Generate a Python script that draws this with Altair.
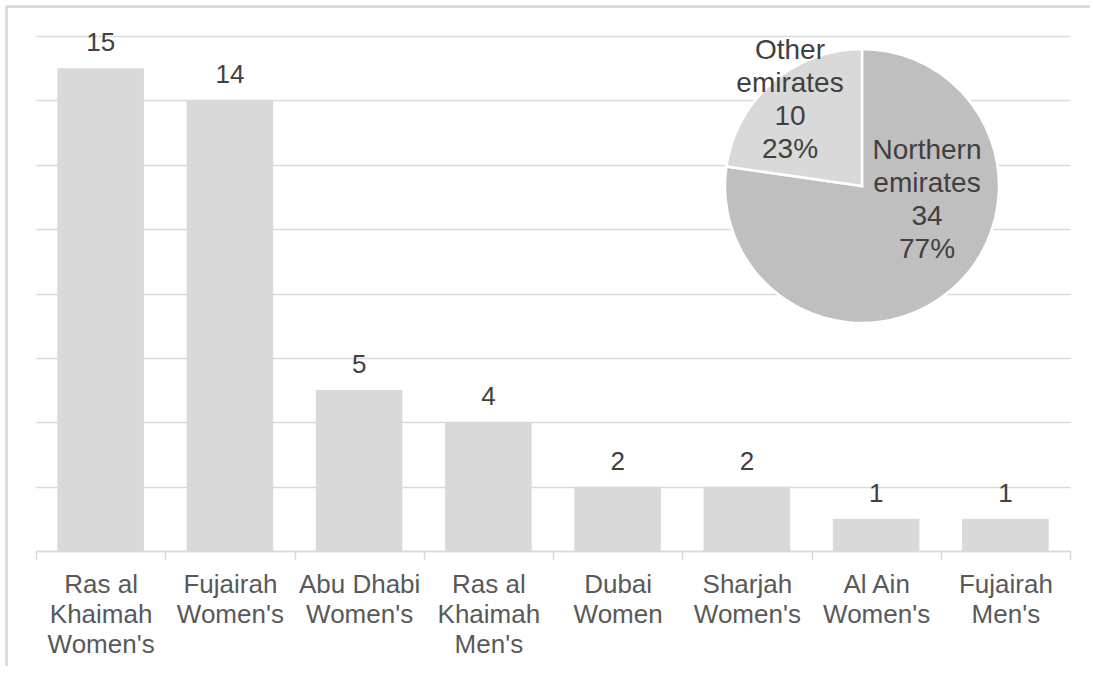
import altair as alt
import pandas as pd

# Bar chart: number of respondents per college
categories = [
    "Ras al\nKhaimah\nWomen's",
    "Fujairah\nWomen's",
    "Abu Dhabi\nWomen's",
    "Ras al\nKhaimah\nMen's",
    "Dubai\nWomen",
    "Sharjah\nWomen's",
    "Al Ain\nWomen's",
    "Fujairah\nMen's",
]
counts = [15, 14, 5, 4, 2, 2, 1, 1]

# Inset pie: northern emirates vs the rest
regions = ["Northern emirates", "Other emirates"]
region_counts = [34, 10]
region_colors = ["#BFBFBF", "#D9D9D9"]

FONT = "Liberation Sans"
W, H = 1034, 515
PAD_L, PAD_T = 36, 36

bars_df = pd.DataFrame({"college": categories, "n": counts})

total = sum(region_counts)
pie_df = pd.DataFrame({
    "region": regions,
    "n": region_counts,
    "idx": list(range(len(regions))),
})
pie_df["label"] = [
    f"{r.replace(' ', chr(10))}\n{v}\n{round(v / total * 100)}%"
    for r, v in zip(regions, region_counts)
]

x_enc = alt.X(
    "college:N",
    sort=categories,
    title=None,
    scale=alt.Scale(paddingInner=0, paddingOuter=0),
    axis=alt.Axis(
        labelAngle=0,
        labelExpr="split(datum.label, '\\n')",
        labelFont=FONT,
        labelFontSize=26,
        labelColor="#595959",
        labelLineHeight=30,
        labelPadding=11,
        labelLimit=300,
        labelOverlap=False,
        labelBaseline="top",
        tickBand="extent",
        tickSize=9,
        tickColor="#D9D9D9",
        tickWidth=1.5,
        domainColor="#D9D9D9",
        domainWidth=1.5,
        grid=False,
    ),
)
y_enc = alt.Y(
    "n:Q",
    title=None,
    scale=alt.Scale(domain=[0, 16], nice=False),
    axis=alt.Axis(
        values=list(range(0, 17, 2)),
        labels=False,
        ticks=False,
        domain=False,
        grid=True,
        gridColor="#D9D9D9",
        gridWidth=1.5,
    ),
)

bars = alt.Chart(bars_df).mark_bar(
    color="#D9D9D9", width=alt.RelativeBandSize(0.67)
).encode(x=x_enc, y=y_enc)

bar_labels = alt.Chart(bars_df).mark_text(
    font=FONT, fontSize=26, color="#404040", baseline="alphabetic", dy=-17
).encode(
    x=alt.X("college:N", sort=categories),
    y="n:Q",
    text="n:Q",
)

# Inset pie centred in the upper-right of the plot area
PIE_X, PIE_Y, PIE_R = 826, 150, 137

pie = alt.Chart(pie_df).mark_arc(
    outerRadius=PIE_R, stroke="white", strokeWidth=2.5
).encode(
    theta=alt.Theta("n:Q", stack=True),
    order=alt.Order("idx:Q"),
    color=alt.Color(
        "region:N",
        scale=alt.Scale(domain=regions, range=region_colors),
        legend=None,
    ),
    x=alt.value(PIE_X),
    y=alt.value(PIE_Y),
)

def pie_label(region, px, py):
    return alt.Chart(pie_df).transform_filter(
        alt.datum.region == region
    ).mark_text(
        font=FONT, fontSize=28, color="#404040", lineBreak="\n",
        lineHeight=33, align="center", baseline="alphabetic",
    ).encode(text="label:N", x=alt.value(px), y=alt.value(py))

label_north = pie_label("Northern emirates", 891, 123)
label_other = pie_label("Other emirates", 754, 23)

# Outer frame lines (top and left edges)
frame_top = alt.Chart(bars_df).mark_rule(color="#D9D9D9", strokeWidth=1.5).encode(
    x=alt.value(-29.5), x2=alt.value(1100), y=alt.value(-29.5)
)
frame_left = alt.Chart(bars_df).mark_rule(color="#D9D9D9", strokeWidth=1.5).encode(
    x=alt.value(-29.5), y=alt.value(-29.5), y2=alt.value(700)
)

chart = alt.layer(
    bars, bar_labels, pie, label_north, label_other, frame_top, frame_left
).properties(
    width=W,
    height=H,
    autosize=alt.AutoSizeParams(type="none"),
    padding={"left": PAD_L, "top": PAD_T, "right": 20, "bottom": 115},
).configure(
    background="white",
    view=alt.ViewConfig(stroke=None),
)

chart.save("out.html", embed_options={"renderer": "svg", "actions": False})
